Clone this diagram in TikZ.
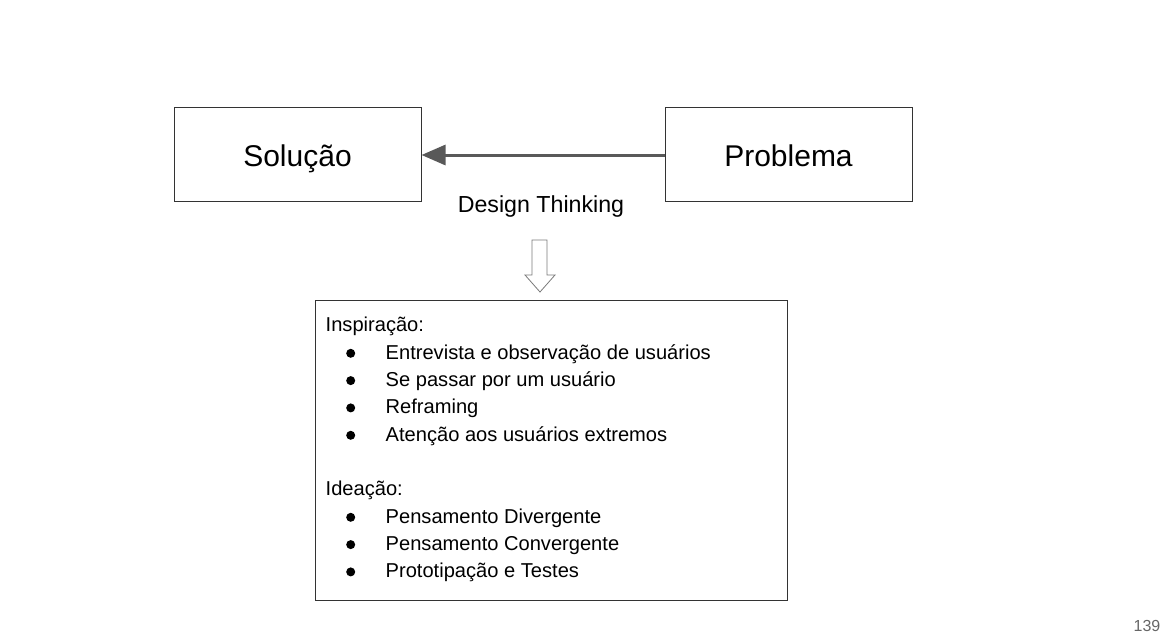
\documentclass[tikz,border=0pt]{standalone}
\usepackage{fontspec}
\setmainfont{Liberation Sans}
\usetikzlibrary{arrows.meta}
\definecolor{edgegray}{HTML}{595959}
\definecolor{boxline}{HTML}{333333}
\definecolor{pagegray}{HTML}{666666}
\begin{document}
\begin{tikzpicture}[x=1pt,y=-1pt,
  bigbox/.style={draw=boxline, line width=1pt, minimum width=247pt, minimum height=94pt, inner sep=0pt, text height=24pt, text depth=0pt, font=\fontsize{30}{36}\selectfont},
  listbox/.style={draw=boxline, line width=1pt, minimum width=472pt, minimum height=300pt, inner sep=0pt},
  linetext/.style={anchor=base west, inner sep=0pt, font=\fontsize{20.1}{24}\selectfont},
  bulletdot/.style={circle, fill=black, inner sep=0pt, minimum size=9pt},
  hollowarrow/.style={draw=edgegray!80, line width=0.8pt, fill=white}
]
\useasboundingbox (0,0) rectangle (1171,643);
\node[bigbox] (sol) at (297.5,154) {Solução};
\node[bigbox] (prob) at (788.5,154) {Problema};
\draw[edgegray, line width=3pt, -{Triangle[length=24pt,width=20pt]}] (prob.west |- 0,155) coordinate (pw) -- (sol.east |- 0,155) coordinate (se);
\node[font=\fontsize{23.2}{28}\selectfont, inner sep=0pt, anchor=base] (dt) at (541,212.5) {Design Thinking};
\draw[hollowarrow] (532,240) -- (547,240) -- (547,275) -- (555,275) -- (540,292) -- (525,275) -- (532,275) -- cycle;
\node[listbox] (list) at (551,450) {};
\node[linetext] (h1) at (325.5,331.7) {Inspiração:};
\foreach \y/\t/\n in {359/Entrevista e observação de usuários/a1, 386.3/Se passar por um usuário/a2, 413.6/Reframing/a3, 441/Atenção aos usuários extremos/a4, 523/Pensamento Divergente/b1, 550.3/Pensamento Convergente/b2, 577.6/Prototipação e Testes/b3}{
  \node[bulletdot] (d\n) at (350.7,\y-5.7) {};
  \node[linetext] (t\n) at (385.5,\y) {\t};
}
\node[linetext] (h2) at (325.5,495.6) {Ideação:};
\node[font=\fontsize{16}{19}\selectfont, text=pagegray, inner sep=0pt] (pg) at (1147,626) {139};
\end{tikzpicture}
\end{document}
